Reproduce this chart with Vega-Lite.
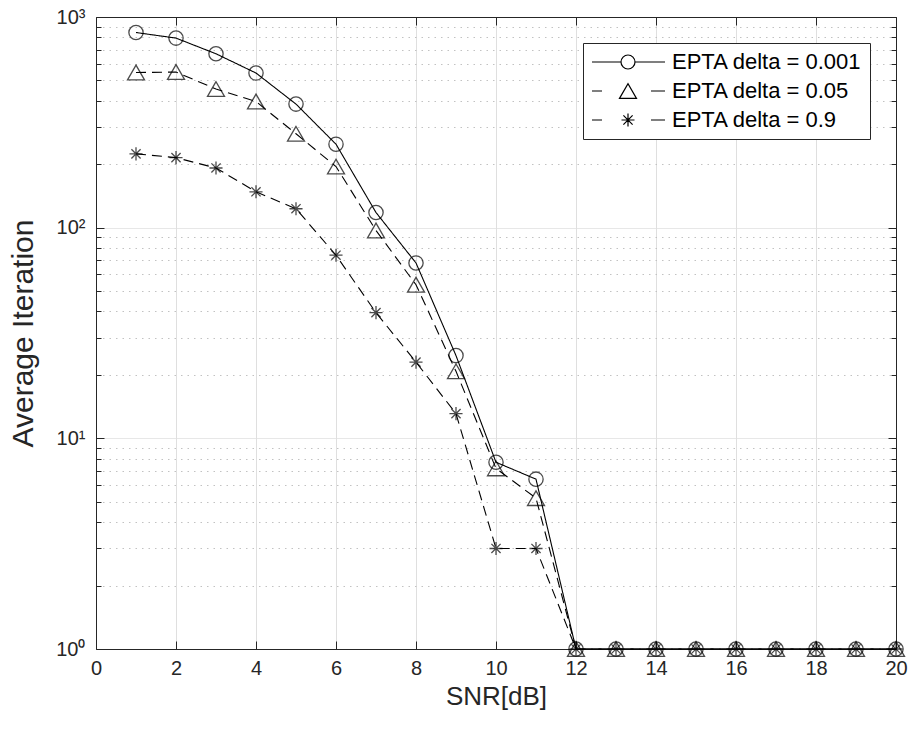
{
  "$schema": "https://vega.github.io/schema/vega-lite/v6.json",
  "autosize": {"type": "none"},
  "padding": {"left": 96, "top": 17, "right": 15, "bottom": 80},
  "width": 800,
  "height": 632,
  "background": "white",
  "config": {
    "font": "Liberation Sans",
    "view": {"stroke": null},
    "axis": {"labelFont": "Liberation Sans", "titleFont": "Liberation Sans", "labelColor": "#262626", "titleColor": "#262626", "domainColor": "#262626", "tickColor": "#262626", "titleFontWeight": "normal", "domainWidth": 1, "tickWidth": 1}
  },
  "data": {"values": [
    {"snr": 1, "iter": 844, "series": "EPTA delta = 0.001"},
    {"snr": 2, "iter": 794, "series": "EPTA delta = 0.001"},
    {"snr": 3, "iter": 669, "series": "EPTA delta = 0.001"},
    {"snr": 4, "iter": 542, "series": "EPTA delta = 0.001"},
    {"snr": 5, "iter": 386, "series": "EPTA delta = 0.001"},
    {"snr": 6, "iter": 249, "series": "EPTA delta = 0.001"},
    {"snr": 7, "iter": 118, "series": "EPTA delta = 0.001"},
    {"snr": 8, "iter": 68, "series": "EPTA delta = 0.001"},
    {"snr": 9, "iter": 24.7, "series": "EPTA delta = 0.001"},
    {"snr": 10, "iter": 7.7, "series": "EPTA delta = 0.001"},
    {"snr": 11, "iter": 6.4, "series": "EPTA delta = 0.001"},
    {"snr": 12, "iter": 1, "series": "EPTA delta = 0.001"},
    {"snr": 13, "iter": 1, "series": "EPTA delta = 0.001"},
    {"snr": 14, "iter": 1, "series": "EPTA delta = 0.001"},
    {"snr": 15, "iter": 1, "series": "EPTA delta = 0.001"},
    {"snr": 16, "iter": 1, "series": "EPTA delta = 0.001"},
    {"snr": 17, "iter": 1, "series": "EPTA delta = 0.001"},
    {"snr": 18, "iter": 1, "series": "EPTA delta = 0.001"},
    {"snr": 19, "iter": 1, "series": "EPTA delta = 0.001"},
    {"snr": 20, "iter": 1, "series": "EPTA delta = 0.001"},
    {"snr": 1, "iter": 545, "series": "EPTA delta = 0.05"},
    {"snr": 2, "iter": 548, "series": "EPTA delta = 0.05"},
    {"snr": 3, "iter": 455, "series": "EPTA delta = 0.05"},
    {"snr": 4, "iter": 397, "series": "EPTA delta = 0.05"},
    {"snr": 5, "iter": 279, "series": "EPTA delta = 0.05"},
    {"snr": 6, "iter": 195, "series": "EPTA delta = 0.05"},
    {"snr": 7, "iter": 97, "series": "EPTA delta = 0.05"},
    {"snr": 8, "iter": 53.6, "series": "EPTA delta = 0.05"},
    {"snr": 9, "iter": 20.8, "series": "EPTA delta = 0.05"},
    {"snr": 10, "iter": 7.2, "series": "EPTA delta = 0.05"},
    {"snr": 11, "iter": 5.2, "series": "EPTA delta = 0.05"},
    {"snr": 12, "iter": 1, "series": "EPTA delta = 0.05"},
    {"snr": 13, "iter": 1, "series": "EPTA delta = 0.05"},
    {"snr": 14, "iter": 1, "series": "EPTA delta = 0.05"},
    {"snr": 15, "iter": 1, "series": "EPTA delta = 0.05"},
    {"snr": 16, "iter": 1, "series": "EPTA delta = 0.05"},
    {"snr": 17, "iter": 1, "series": "EPTA delta = 0.05"},
    {"snr": 18, "iter": 1, "series": "EPTA delta = 0.05"},
    {"snr": 19, "iter": 1, "series": "EPTA delta = 0.05"},
    {"snr": 20, "iter": 1, "series": "EPTA delta = 0.05"},
    {"snr": 1, "iter": 224, "series": "EPTA delta = 0.9"},
    {"snr": 2, "iter": 215, "series": "EPTA delta = 0.9"},
    {"snr": 3, "iter": 192, "series": "EPTA delta = 0.9"},
    {"snr": 4, "iter": 148, "series": "EPTA delta = 0.9"},
    {"snr": 5, "iter": 123, "series": "EPTA delta = 0.9"},
    {"snr": 6, "iter": 74, "series": "EPTA delta = 0.9"},
    {"snr": 7, "iter": 39.5, "series": "EPTA delta = 0.9"},
    {"snr": 8, "iter": 23, "series": "EPTA delta = 0.9"},
    {"snr": 9, "iter": 13.1, "series": "EPTA delta = 0.9"},
    {"snr": 10, "iter": 3, "series": "EPTA delta = 0.9"},
    {"snr": 11, "iter": 3, "series": "EPTA delta = 0.9"},
    {"snr": 12, "iter": 1, "series": "EPTA delta = 0.9"},
    {"snr": 13, "iter": 1, "series": "EPTA delta = 0.9"},
    {"snr": 14, "iter": 1, "series": "EPTA delta = 0.9"},
    {"snr": 15, "iter": 1, "series": "EPTA delta = 0.9"},
    {"snr": 16, "iter": 1, "series": "EPTA delta = 0.9"},
    {"snr": 17, "iter": 1, "series": "EPTA delta = 0.9"},
    {"snr": 18, "iter": 1, "series": "EPTA delta = 0.9"},
    {"snr": 19, "iter": 1, "series": "EPTA delta = 0.9"},
    {"snr": 20, "iter": 1, "series": "EPTA delta = 0.9"}
  ]},
  "resolve": {"axis": {"x": "independent", "y": "independent"}, "scale": {"shape": "independent"}},
  "layer": [
    {
      "mark": {"type": "line", "color": "black", "strokeWidth": 1.1},
      "encoding": {
        "x": {"field": "snr", "type": "quantitative",
          "scale": {"domain": [0, 20], "nice": false, "zero": false},
          "axis": {"orient": "bottom", "values": [0, 2, 4, 6, 8, 10, 12, 14, 16, 18, 20], "title": "SNR[dB]", "titleFontSize": 26, "titlePadding": 5, "labelFontSize": 20, "labelPadding": 9, "ticks": false, "domain": false, "grid": true, "gridColor": "#dfdfdf", "gridWidth": 1, "labelFlush": false, "labelOverlap": false}},
        "y": {"field": "iter", "type": "quantitative",
          "scale": {"type": "log", "domain": [1, 1000], "nice": false},
          "axis": {"orient": "left", "values": [1, 2, 3, 4, 5, 6, 7, 8, 9, 10, 20, 30, 40, 50, 60, 70, 80, 90, 100, 200, 300, 400, 500, 600, 700, 800, 900, 1000],
            "labelExpr": "datum.value == 1000 ? '10³' : datum.value == 100 ? '10²' : datum.value == 10 ? '10¹' : datum.value == 1 ? '10⁰' : ''",
            "title": "Average Iteration", "titleFontSize": 30, "titlePadding": 17, "labelFontSize": 20, "labelPadding": 11, "ticks": false, "domain": false, "grid": true,
            "gridColor": {"condition": {"test": "datum.value == 1 || datum.value == 10 || datum.value == 100 || datum.value == 1000", "value": "#dfdfdf"}, "value": "#c2c2c2"},
            "gridDash": {"condition": {"test": "datum.value == 1 || datum.value == 10 || datum.value == 100 || datum.value == 1000", "value": [1, 0]}, "value": [1.5, 5]},
            "labelFlush": false, "labelOverlap": false}},
        "strokeDash": {"field": "series", "type": "nominal",
          "scale": {"range": [[1, 0], [10, 6], [10, 6]]},
          "legend": null}
      }
    },
    {
      "mark": {"type": "point", "opacity": 0},
      "encoding": {
        "x": {"field": "snr", "type": "quantitative",
          "axis": {"orient": "bottom", "values": [0, 2, 4, 6, 8, 10, 12, 14, 16, 18, 20], "labels": false, "title": null, "ticks": true, "tickSize": -8, "domain": true, "grid": false}},
        "y": {"field": "iter", "type": "quantitative",
          "axis": {"orient": "left", "values": [1, 2, 3, 4, 5, 6, 7, 8, 9, 10, 20, 30, 40, 50, 60, 70, 80, 90, 100, 200, 300, 400, 500, 600, 700, 800, 900, 1000], "labels": false, "title": null, "ticks": true,
            "tickSize": {"condition": {"test": "datum.value == 1 || datum.value == 10 || datum.value == 100 || datum.value == 1000", "value": -8}, "value": -5},
            "domain": true, "grid": false}}
      }
    },
    {
      "mark": {"type": "point", "filled": false, "color": "black", "strokeWidth": 1.3, "size": 289},
      "encoding": {
        "x": {"field": "snr", "type": "quantitative",
          "axis": {"orient": "top", "values": [0, 2, 4, 6, 8, 10, 12, 14, 16, 18, 20], "labels": false, "title": null, "ticks": true, "tickSize": -8, "domain": true, "grid": false}},
        "y": {"field": "iter", "type": "quantitative",
          "axis": {"orient": "right", "values": [1, 2, 3, 4, 5, 6, 7, 8, 9, 10, 20, 30, 40, 50, 60, 70, 80, 90, 100, 200, 300, 400, 500, 600, 700, 800, 900, 1000], "labels": false, "title": null, "ticks": true,
            "tickSize": {"condition": {"test": "datum.value == 1 || datum.value == 10 || datum.value == 100 || datum.value == 1000", "value": -8}, "value": -5},
            "domain": true, "grid": false}},
        "shape": {"field": "series", "type": "nominal",
          "scale": {"range": ["M-0.84,0A0.84,0.84 0 1,0 0.84,0A0.84,0.84 0 1,0 -0.84,0Z", "triangle-up", "M-0.77,0L0.77,0M0,-0.77L0,0.77M-0.54,-0.54L0.54,0.54M-0.54,0.54L0.54,-0.54"]},
          "legend": null}
      }
    },
    {
      "mark": {"type": "point", "filled": false, "color": "black", "strokeWidth": 1.2, "opacity": 0},
      "encoding": {
        "x": {"field": "snr", "type": "quantitative", "axis": null},
        "y": {"field": "iter", "type": "quantitative", "axis": null},
        "shape": {"field": "series", "type": "nominal",
          "scale": {"domain": ["EPTA delta = 0.001", "EPTA delta = 0.05", "EPTA delta = 0.9"],
            "range": [
              "M-36,0L-7,0M7,0L37,0M-7,0A7,7 0 1,0 7,0A7,7 0 1,0 -7,0Z",
              "M-36,0L-26,0M23,0L37,0M-8.5,7.4L0,-7.4L8.5,7.4Z",
              "M-36,0L-26,0M23,0L37,0M-6.5,0L6.5,0M0,-6.5L0,6.5M-4.6,-4.6L4.6,4.6M-4.6,4.6L4.6,-4.6"]},
          "legend": {
            "title": null, "orient": "none", "legendX": 487, "legendY": 26, "direction": "vertical",
            "padding": 8, "strokeColor": "#262626", "fillColor": "white",
            "labelFontSize": 22, "labelFont": "Liberation Sans", "labelColor": "black", "labelLimit": 400,
            "symbolSize": 4, "symbolOffset": 26, "labelOffset": 33, "rowPadding": 7,
            "symbolStrokeWidth": 1.2, "symbolStrokeColor": "black", "symbolFillColor": "transparent", "symbolOpacity": 1
          }}
      }
    }
  ]
}
